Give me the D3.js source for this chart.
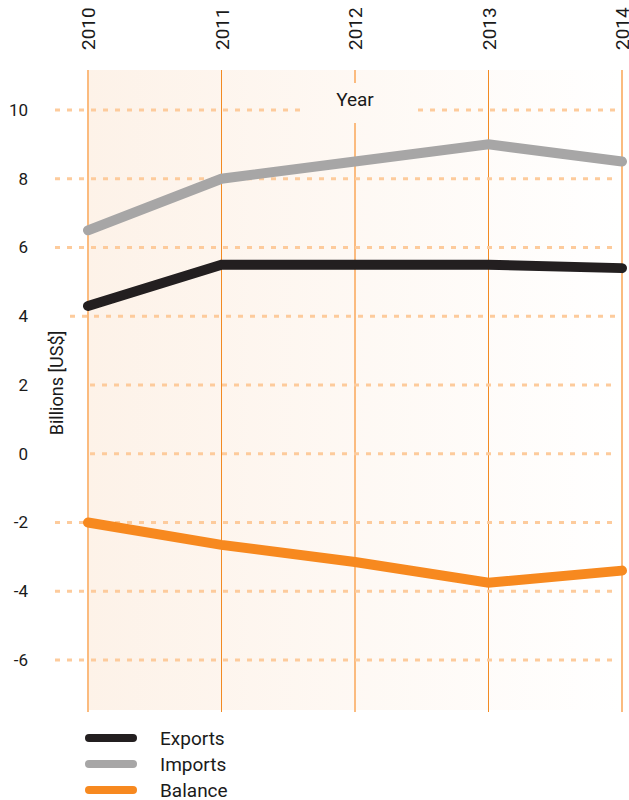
<!DOCTYPE html>
<html>
<head>
<meta charset="utf-8">
<script src="https://cdn.jsdelivr.net/npm/d3@7"></script>
<style>
	body{margin:0;background:#fff;}
	text{font-family:Roboto,"Noto Sans",sans-serif;fill:#1a1a1a;}
</style>
</head>
<body>
<div id="chart"></div>
<script>
const years = [2010, 2011, 2012, 2013, 2014]
const exportValues = [4.3, 5.5, 5.5, 5.5, 5.4]
const importValues = [6.5, 8.0, 8.5, 9.0, 8.5]
const balanceValues = [-2.0, -2.65, -3.15, -3.75, -3.4]
const yTicks = [10, 8, 6, 4, 2, 0, -2, -4, -6]
const seriesNames = ['Exports', 'Imports', 'Balance']
const seriesColours = ['#231f20', '#a7a6a6', '#f7891f']

function drawChart(){
	let width = 629, height = 800

	let svg = d3.select('#chart').append('svg')
		.attr('width', width).attr('height', height)

	let x = d3.scalePoint().domain(years).range([88, 622])
	let y = d3.scaleLinear().domain([-6, 10]).range([660, 110])

	let plotTop = y(10) - 40, plotBottom = y(-6) + 50

	// background fading from light orange to white
	let grad = svg.append('defs').append('linearGradient')
		.attr('id', 'bgfade').attr('x1', 0).attr('x2', 1).attr('y1', 0).attr('y2', 0)
	grad.append('stop').attr('offset', '0%').attr('stop-color', '#fdf2e8')
	grad.append('stop').attr('offset', '100%').attr('stop-color', '#ffffff')

	svg.append('rect')
		.attr('x', x(2010)).attr('y', plotTop)
		.attr('width', x(2014) - x(2010)).attr('height', plotBottom - plotTop)
		.attr('fill', 'url(#bgfade)')

	// vertical year lines, alternating light/dark
	years.forEach(function(yr, i){
		let light = i % 2 == 0
		let stroke = light ? '#fbbb7f' : '#f28a22'
		let w = light ? 2 : 1
		let xp = Math.floor(x(yr)) + (light ? 0 : 0.5)
		let spans = [[plotTop, plotBottom + 2]]
		if(yr == 2012){ spans = [[plotTop, 83], [123, plotBottom + 2]] } // gap around "Year"
		spans.forEach(function(s){
			svg.append('line').attr('x1', xp).attr('x2', xp)
				.attr('y1', s[0]).attr('y2', s[1])
				.attr('stroke', stroke).attr('stroke-width', w)
				.attr('shape-rendering', 'crispEdges')
		})
	})

	// dotted horizontal grid
	let gridStart = {4: 70, 2: 90, 0: 90}
	yTicks.forEach(function(t){
		let segs = [[gridStart[t] || 55, 616]]
		if(t == 10){ segs = [[55, 302], [418, 616]] }
		segs.forEach(function(s){
			svg.append('line')
				.attr('x1', s[0]).attr('x2', s[1])
				.attr('y1', y(t)).attr('y2', y(t))
				.attr('stroke', '#fdcb9c').attr('stroke-width', 3)
				.attr('stroke-dasharray', '5 7')
		})
	})

	// y tick labels
	svg.append('g').selectAll('text').data(yTicks).enter().append('text')
		.attr('x', 28).attr('y', function(d){ return y(d) })
		.attr('text-anchor', 'end').attr('dy', '0.35em')
		.style('font-size', '17px')
		.text(function(d){ return d })

	// year labels, rotated at top
	svg.append('g').selectAll('text').data(years).enter().append('text')
		.attr('transform', function(d){ return 'translate(' + (x(d) + 7) + ',50) rotate(-90)' })
		.style('font-size', '19px')
		.text(function(d){ return d })

	svg.append('text')
		.attr('x', x(2012)).attr('y', 99)
		.attr('text-anchor', 'middle').attr('dy', '0.35em')
		.style('font-size', '19px')
		.text('Year')

	svg.append('text')
		.attr('transform', 'translate(63,383) rotate(-90)')
		.attr('text-anchor', 'middle')
		.style('font-size', '18px')
		.text('Billions [US$]')

	// series lines
	let line = d3.line()
		.x(function(d, i){ return x(years[i]) })
		.y(function(d){ return y(d) })

	let series = [exportValues, importValues, balanceValues]
	let order = [1, 0, 2]
	order.forEach(function(k){
		svg.append('path')
			.attr('d', line(series[k]))
			.attr('fill', 'none')
			.attr('stroke', seriesColours[k])
			.attr('stroke-width', 10)
			.attr('stroke-linecap', 'round')
			.attr('stroke-linejoin', 'miter')
	})

	// legend
	let legend = svg.append('g').selectAll('g').data(seriesNames).enter().append('g')
		.attr('transform', function(d, i){ return 'translate(0,' + (738 + i * 26) + ')' })

	legend.append('line')
		.attr('x1', 89).attr('x2', 133)
		.attr('stroke', function(d, i){ return seriesColours[i] })
		.attr('stroke-width', 8)
		.attr('stroke-linecap', 'round')

	legend.append('text')
		.attr('x', 160).attr('dy', '0.35em')
		.style('font-size', '19px')
		.text(function(d){ return d })
}

drawChart()
</script>
</body>
</html>
